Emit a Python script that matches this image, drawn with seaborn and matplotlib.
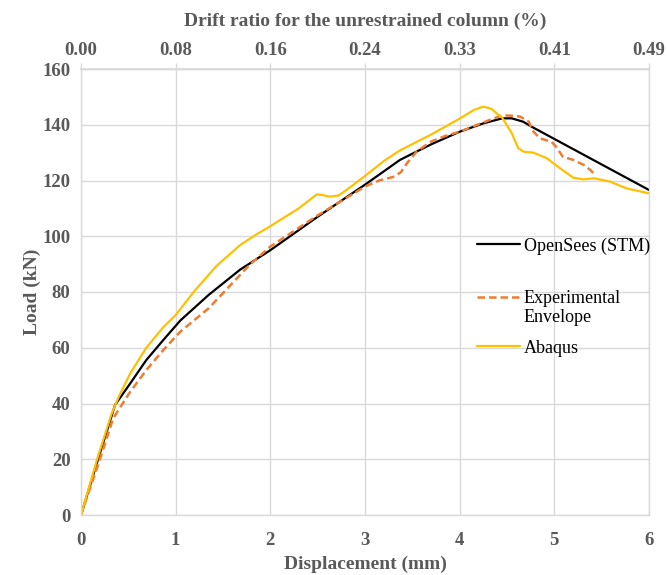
import matplotlib
matplotlib.use("Agg")
import matplotlib.pyplot as plt
from matplotlib.lines import Line2D
import seaborn as sns

# ---- data ----
opensees_x = [0, 0.18, 0.36, 0.52, 0.69, 0.87, 1.05, 1.35, 1.68, 2.0, 2.5, 3.0, 3.37, 3.7, 4.0, 4.25,
              4.45, 4.55, 4.67, 4.76, 6.0]
opensees_y = [0, 20, 39.5, 47.2, 55.6, 62.8, 69.8, 79, 88, 95, 107, 118.5, 127.4, 133, 137.5, 140.5,
              142.3, 142.3, 141.1, 139.3, 116.6]

exp_x = [0, 0.2, 0.34, 0.52, 0.69, 0.87, 1.05, 1.35, 1.78, 2.0, 2.5, 3.0, 3.15, 3.3, 3.38, 3.45, 3.55,
         3.7, 3.85, 4.0, 4.3, 4.45, 4.57, 4.64, 4.73, 4.78, 4.85, 4.97, 5.02, 5.09, 5.2, 5.31, 5.38, 5.43]
exp_y = [0, 20, 34.7, 44.2, 52, 59.2, 65.8, 74.2, 89.7, 96.3, 107.5, 117.8, 120, 121.3, 123, 126.5,
         130.5, 134, 136, 137.5, 141.5, 143.4, 143.2, 142.9, 141.1, 137.5, 135.1, 133.9, 132.1, 128.5,
         127.4, 125.6, 123.8, 122]

abaqus_x = [0, 0.17, 0.32, 0.4, 0.52, 0.69, 0.87, 1.0, 1.19, 1.43, 1.68, 1.85, 2.0, 2.3, 2.49, 2.55,
            2.63, 2.72, 2.8, 3.0, 3.2, 3.37, 3.7, 4.0, 4.15, 4.25, 4.33, 4.45, 4.55, 4.62, 4.68, 4.78,
            4.92, 5.06, 5.2, 5.31, 5.42, 5.59, 5.76, 6.0]
abaqus_y = [0, 20, 36, 42.5, 50.8, 60, 67.4, 71.7, 80, 89.3, 96.8, 100.6, 103.6, 110, 115, 114.8,
            114.2, 114.6, 116.5, 121.6, 127, 130.8, 136.5, 142.2, 145.3, 146.5, 145.8, 142.5, 137,
            131.5, 130.3, 130, 128, 124.4, 121, 120.4, 120.8, 119.6, 117.2, 115.4]

series_labels = ["OpenSees (STM)", "Experimental", "Envelope", "Abaqus"]
x_ticks = [0, 1, 2, 3, 4, 5, 6]
y_ticks = [0, 20, 40, 60, 80, 100, 120, 140, 160]
drift_labels = ["0.00", "0.08", "0.16", "0.24", "0.33", "0.41", "0.49"]

sns.set_theme(style="white")
plt.rcParams['font.family'] = ['Liberation Serif', 'DejaVu Serif']

fig = plt.figure(figsize=(6.67, 5.75), dpi=100)
ax = fig.add_axes([81/667, 60/575, 568/667, 446/575])

grid_c = "#d9d9d9"
lab_c = "#595959"
c_os, c_exp, c_ab = "black", "#ED7D31", "#FFC000"
exp_dash = (0, (3.0, 1.6))

sns.lineplot(x=opensees_x, y=opensees_y, ax=ax, color=c_os, lw=1.6,
             sort=False, estimator=None, legend=False)
sns.lineplot(x=exp_x, y=exp_y, ax=ax, color=c_exp, lw=1.8,
             sort=False, estimator=None, legend=False)
ax.lines[-1].set_linestyle(exp_dash)
sns.lineplot(x=abaqus_x, y=abaqus_y, ax=ax, color=c_ab, lw=1.6,
             sort=False, estimator=None, legend=False)

ax.set_xlim(0, 6)
ax.set_ylim(0, 160)
ax.set_xticks(x_ticks)
ax.set_yticks(y_ticks)
ax.grid(True, color=grid_c, lw=1.0)
for s in ax.spines.values():
    s.set_color(grid_c)
    s.set_linewidth(1.0)
ax.tick_params(axis="both", colors=grid_c, length=4, width=1.0, direction="out",
               labelcolor=lab_c, labelsize=13.5)
ax.tick_params(axis="x", pad=8)
for t in ax.get_xticklabels() + ax.get_yticklabels():
    t.set_fontweight("bold")

ax.set_xlabel("Displacement (mm)", fontsize=14, fontweight="bold", color=lab_c, labelpad=5)
ax.set_ylabel("Load (kN)", fontsize=14, fontweight="bold", color=lab_c, labelpad=1)

top = ax.secondary_xaxis("top")
top.set_xticks(x_ticks)
top.set_xticklabels(drift_labels)
top.spines["top"].set_color(grid_c)
top.tick_params(colors=grid_c, length=4, width=1.0, direction="out",
                labelcolor=lab_c, labelsize=13.5)
for t in top.get_xticklabels():
    t.set_fontweight("bold")
top.set_xlabel("Drift ratio for the unrestrained column (%)", fontsize=14,
               fontweight="bold", color=lab_c, labelpad=11)

# legend built as three blocks so the two-line entry keeps its handle on the first line
leg_kw = dict(frameon=False, fontsize=13, handlelength=2.4, handletextpad=0.2,
              borderaxespad=0, borderpad=0, loc="center left")
h_os = Line2D([], [], color=c_os, lw=1.6)
h_exp = Line2D([], [], color=c_exp, lw=1.8, linestyle=exp_dash)
h_blank = Line2D([], [], color="none")
h_ab = Line2D([], [], color=c_ab, lw=1.6)

leg1 = ax.legend([h_os], [series_labels[0]], bbox_to_anchor=(0.697, 0.603), **leg_kw)
ax.add_artist(leg1)
leg2 = ax.legend([h_exp, h_blank], series_labels[1:3], bbox_to_anchor=(0.697, 0.464),
                 labelspacing=0.1, **leg_kw)
ax.add_artist(leg2)
leg3 = ax.legend([h_ab], [series_labels[3]], bbox_to_anchor=(0.697, 0.374), **leg_kw)
for lg in (leg1, leg2, leg3):
    for t in lg.get_texts():
        t.set_color("black")

fig.savefig("out.png", dpi=100)
